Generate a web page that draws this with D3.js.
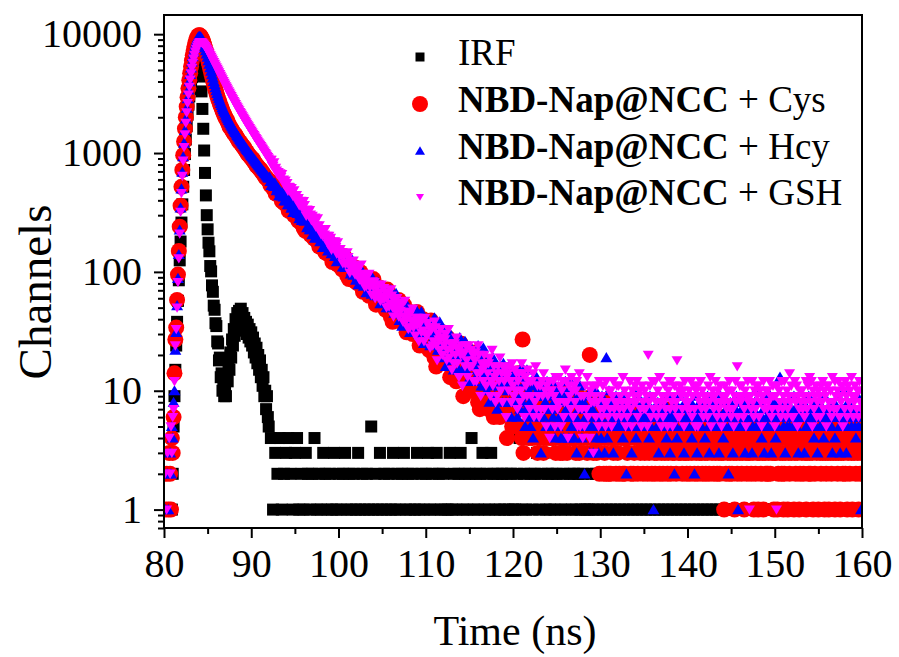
<!DOCTYPE html>
<html>
<head>
<meta charset="utf-8">
<script src="https://cdn.jsdelivr.net/npm/d3@7"></script>
<style>
body { margin: 0; background: #fff; }
</style>
</head>
<body>
<svg id="chart" width="899" height="657"></svg>
<script>
// sample decays: one count per channel, channels every 0.1 ns from 80.0 to 160.0
var timeStart = 80, timeStep = 0.1;
// IRF: 0.1 ns channels to 92.0, then read every 0.25 ns from 92.25
var irfTailStart = 92.25, irfTailStep = 0.25;

var xTicks = [80, 90, 100, 110, 120, 130, 140, 150, 160];
var xMinor = [85, 95, 105, 115, 125, 135, 145, 155];
var yTicks = [1, 10, 100, 1000, 10000];

var irfFine = [
  0,0,0,0,0,0,0,0,0,1,
  2,5,9,15,24,38,57,85,125,180,
  260,370,520,720,980,1300,1680,2100,2550,3000,
  3450,3900,4350,4800,5200,5600,5950,6250,6450,6500,
  6250,5500,4400,3300,2350,1600,1050,680,440,300,
  228,176,149,112,101,77,68,52,48,37,
  35,26,25,18,19,13,14,10,12,9,
  11,9,13,12,17,15,21,19,27,24,
  33,29,40,35,45,38,47,41,49,40,
  45,37,41,32,38,30,36,28,33,26,
  31,24,28,21,25,19,23,17,20,15,
  18,13,15,11,13,9,10,7,9,6,
  5];
var irfTail = [
  4,1,3,2, 4,1,2,3, 4,2,1,3, 4,1,2,1, 3,2,1,2,
  4,1,2,1, 3,2,1,2, 1,3,1,2, 1,2,3,1, 2,1,2,1,
  3,1,2,1, 2,1,5,1, 2,1,3,1, 2,1,2,1, 3,1,2,1,
  2,3,1,2, 1,2,1,3, 1,2,1,2, 3,1,2,1, 3,2,1,2,
  1,1,3,1, 2,1,2,3, 1,2,1,2, 4,1,2,1, 2,3,1,2,
  1,3,2,1, 2,1,2,1, 2,1,2,1, 1,2,4,1, 2,1,4,2,
  1,2,3,1, 2,3,1,2, 1,2,1,2, 3,1,2,1, 3,2,1,2,
  1,2,1,2, 1,1,1,2, 1,2,1,2, 1,2,1,2, 1,2,1,3,
  1,2,1,2, 1,2,1,2, 1,2,1,2, 1,2,1,2, 1,2,1,2,
  1,2,1,2, 1,2,1,2, 1,2,1,2, 1,2,1,2, 1,2,1,2,
  1,2,1,2, 1,2,1,2, 1,2,1,2, 1,2,1,2, 1,2,1,2,
  1,2,1,2, 1,2,1,2, 1,2,1,2, 1,2,1,2, 1,2,1,2,
  1,2,1,2, 1,2,1,2, 1,2,1,2, 1,2,1,2, 1,2,1,2,
  1,2,1,2, 1,2,1,2, 1,2,1,2];

var cysCounts = [
  0,1,0,2,0,1,3,2,1,4,
  3,6,14,27,34,58,95,150,240,360,
  520,720,960,1250,1600,2000,2450,2950,3500,4100,
  4700,5350,6000,6650,7300,7900,8450,8950,9350,9650,
  9800,9780,9620,9350,9000,8600,8150,7700,7250,6780,
  6320,5900,5480,5100,4740,4420,4130,3860,3620,3400,
  3200,3030,2880,2740,2610,2490,2380,2280,2190,2100,
  2020,1950,1905,1820,1760,1672,1650,1600,1555,1510,
  1470,1435,1423,1365,1330,1300,1248,1240,1210,1180,
  1150,1120,1117,1070,1045,1020,978,970,950,930,
  910,890,889,850,830,812,781,778,760,744,
  728,726,696,681,666,652,625,624,611,598,
  585,
  581,535,568,528,560,494,506,455,496,468,
  447,475,437,448,395,419,425,377,380,420,
  394,355,326,362,346,325,358,331,299,322,
  303,312,317,269,275,312,258,275,258,234,
  267,222,247,248,226,248,224,204,241,208,
  216,191,215,195,217,180,191,163,191,177,
  167,187,165,175,145,163,169,141,146,174,
  159,138,121,146,137,126,149,133,115,131,
  121,129,134,105,110,137,103,115,107,93,
  115,87,105,107,94,110,96,84,109,89,
  96,80,97,85,100,78,86,68,87,79,
  74,89,75,83,63,77,82,64,67,87,
  78,64,53,71,66,58,74,64,54,65,
  58,64,68,48,53,71,48,57,52,42,
  58,38,52,54,45,57,47,39,58,43,
  48,38,50,41,53,37,43,31,46,39,
  36,46,38,43,30,39,43,31,34,46,
  41,31,24,36,34,28,40,33,25,33,
  29,33,36,22,25,39,22,29,24,19,
  31,16,26,28,21,30,23,17,31,21,
  24,17,26,20,28,17,21,13,23,20,
  16,24,18,22,12,19,22,14,15,25,
  21,15,9,18,16,13,22,16,11,17,
  14,18,19,10,12,21,11,14,12,8,
  16,7,14,14,10,16,12,8,17,11,
  12,7,14,10,16,8,12,6,12,10,
  8,14,9,12,6,11,13,7,8,15,
  12,7,4,11,9,7,13,10,5,10,
  7,10,12,5,7,14,5,9,7,4,
  27,3,8,8,5,10,7,4,11,6,
  8,4,9,6,11,5,8,3,8,6,
  4,9,5,8,3,7,8,4,5,11,
  9,5,4,7,6,4,9,7,3,7,
  5,7,8,3,4,10,3,6,4,5,
  7,3,5,6,4,7,5,4,8,4,
  6,3,7,5,9,3,5,4,7,5,
  4,8,5,7,3,5,7,20,4,9,
  6,3,4,5,4,3,7,4,2,5,
  4,5,7,2,3,8,2,5,4,2,
  6,2,4,5,3,6,4,2,7,3,
  5,2,6,4,7,2,4,2,5,4,
  3,6,4,5,2,5,6,2,3,7,
  6,4,2,5,4,3,6,4,2,5,
  3,5,4,2,6,3,4,5,2,4,
  5,3,2,4,3,6,4,2,5,3,
  4,2,6,3,5,4,2,3,7,4,
  2,5,3,4,3,6,2,4,5,3,
  4,3,5,2,4,3,6,3,2,5,
  3,4,2,5,3,4,6,2,4,3,
  5,2,4,3,6,3,2,4,5,3,
  2,4,3,5,2,6,4,3,4,2,
  4,3,5,2,4,3,2,5,3,6,
  3,1,4,2,5,3,4,2,3,4,
  2,4,3,1,5,3,2,4,6,3,
  4,2,3,5,1,4,3,2,4,3,
  3,5,2,4,3,1,4,2,5,3,
  1,3,4,2,5,3,1,4,3,2,
  4,2,3,5,2,4,3,6,1,3,
  3,4,1,2,4,3,5,2,3,1,
  2,3,5,4,1,3,2,4,3,5,
  4,1,3,2,5,3,4,1,2,4,
  3,5,2,4,3,1,3,5,2,3,
  2,4,3,1,4,2,5,3,4,1,
  5,3,2,4,3,6,1,3,2,4,
  3,1,4,3,2,5,3,4,1,3,
  4,2,3,5,1,3,4,2,3,5,
  2,4,1,3,4,2,5,3,1,4,
  3,5,2,4,3,1,4,2,3,4];

var hcyCounts = [
  0,0,1,0,2,1,0,3,2,5,
  4,8,10,22,31,52,88,140,225,345,
  500,690,930,1210,1550,1940,2380,2870,3400,3980,
  4580,5200,5840,6480,7100,7680,8200,8680,9080,9380,
  9560,9600,9500,9280,8960,8570,8140,7700,7260,6830,
  6400,5990,5600,5230,4890,4570,4280,4010,3770,3550,
  3350,3170,3010,2870,2740,2620,2510,2410,2320,2240,
  2160,2080,2010,1945,1880,1820,1765,1715,1665,1620,
  1575,1530,1490,1450,1410,1375,1340,1305,1270,1240,
  1210,1180,1150,1125,1100,1075,1050,1025,1000,978,
  956,935,914,894,874,855,836,818,800,782,
  765,748,732,716,700,685,670,656,642,628,
  615,
  628,577,535,578,554,523,562,524,482,507,
  504,438,470,468,435,462,428,396,445,397,
  405,368,399,368,397,344,356,316,352,330,
  316,340,311,322,280,302,308,271,273,307,
  267,276,281,236,242,278,227,243,227,206,
  239,213,192,220,209,194,221,201,180,197,
  199,161,183,184,166,185,167,150,183,155,
  162,142,163,146,166,135,144,122,145,134,
  126,144,127,135,110,125,131,109,113,136,
  111,118,123,96,102,125,94,106,97,85,
  107,91,78,99,93,83,102,91,76,90,
  92,67,83,85,74,88,76,65,89,70,
  76,63,78,68,82,62,69,54,71,63,
  58,72,59,67,50,61,66,50,54,71,
  54,59,63,45,48,66,45,53,48,39,
  56,44,35,50,47,40,55,46,37,47,
  48,31,43,44,37,47,39,32,48,36,
  40,30,42,34,46,30,36,25,38,33,
  30,40,31,36,24,33,37,25,28,41,
  28,33,35,22,25,38,22,29,24,19,
  32,22,16,28,26,20,31,26,18,26,
  27,15,23,24,19,27,21,15,28,19,
  22,15,24,19,26,15,20,12,22,18,
  16,23,17,21,12,18,21,13,15,24,
  15,19,21,11,13,23,11,17,14,10,
  18,12,8,16,14,11,19,14,9,15,
  16,7,14,15,11,16,12,8,17,11,
  13,8,15,10,16,8,12,6,13,11,
  8,14,9,13,6,11,13,7,9,16,
  8,11,13,5,7,15,6,10,8,5,
  12,7,4,11,9,7,13,10,6,10,
  11,3,9,9,6,11,8,5,12,7,
  9,5,10,7,12,6,8,4,10,8,
  5,10,6,9,4,8,10,4,6,12,
  7,9,10,4,6,12,5,8,6,4,
  10,6,3,9,7,5,11,8,4,8,
  8,2,6,7,5,9,6,3,10,5,
  7,3,8,5,10,4,6,3,8,6,
  4,9,5,8,3,7,19,4,5,10,
  6,7,8,5,3,7,6,9,6,5,
  7,5,8,6,9,4,6,5,8,2,
  5,8,6,7,7,3,5,10,6,8,
  4,6,9,5,7,7,6,6,8,5,
  8,6,5,7,6,4,9,5,7,6,
  1,7,6,6,5,8,3,6,7,8,
  6,5,8,7,7,4,6,9,5,3,
  6,7,5,6,2,8,5,4,7,6,
  9,7,6,5,7,3,8,5,6,6,
  5,6,7,8,4,7,5,2,6,9,
  3,7,6,8,8,5,6,7,6,4,
  6,7,9,5,3,6,8,6,5,7,
  7,5,7,8,6,3,5,9,6,6,
  4,8,5,7,7,6,2,5,8,5,
  6,3,7,5,7,9,5,1,6,8,
  5,7,6,6,8,3,6,5,7,7,
  8,6,6,3,5,7,8,10,5,6,
  6,6,5,8,4,6,7,3,5,9,
  6,5,7,7,9,3,5,6,8,6,
  4,7,5,6,7,13,6,8,7,5,
  7,3,6,5,8,7,5,7,6,6,
  5,9,7,7,5,6,3,8,6,6,
  6,7,8,3,6,5,7,6,9,5,
  6,6,5,7,4,8,5,6,3,7,
  8,5,7,6,7,4,9,5,6,7,
  5,7,6,7,5,3,6,8,4,6,
  6,6,9,5,3,7,5,7,10,5,
  6,3,5,8,6,7,7,5,6,6,
  7,5,4,6,9,5,7,6,1,5];

var gshCounts = [
  0,2,0,1,3,0,4,2,5,3,
  6,7,12,24,33,50,82,130,210,320,
  460,640,860,1120,1430,1790,2190,2630,3100,3600,
  4130,4670,5200,5720,6220,6690,7120,7510,7850,8130,
  8350,8500,8560,8520,8420,8280,8110,7920,7720,7510,
  7290,7070,6850,6630,6420,6210,6010,5810,5620,5440,
  5260,5090,4920,4760,4600,4450,4300,4160,4020,3890,
  3760,3640,3520,3410,3300,3200,3100,3000,2910,2820,
  2730,2650,2570,2490,2420,2350,2280,2210,2150,2090,
  2030,1970,1915,1860,1810,1760,1710,1665,1620,1575,
  1530,1490,1450,1410,1370,1335,1300,1265,1230,1200,
  1170,1140,1110,1080,1052,1025,998,972,947,922,
  898,
  872,876,874,779,780,835,729,749,710,660,
  690,636,673,626,662,585,597,539,584,551,
  557,481,518,514,476,505,467,431,485,429,
  413,442,403,417,363,390,396,348,352,393,
  364,325,296,333,319,296,330,303,272,295,
  271,281,286,240,245,281,229,246,229,207,
  228,201,228,205,229,190,201,172,201,186,
  193,153,177,179,160,180,161,142,177,148,
  137,155,137,146,118,136,142,116,120,146,
  133,113,98,122,114,103,124,110,95,110,
  100,108,112,86,91,115,84,96,87,75,
  92,76,93,81,96,74,82,64,83,75,
  82,60,74,75,65,78,67,57,78,62,
  59,73,60,67,50,61,66,51,54,71,
  63,50,42,57,53,46,60,52,42,52,
  47,52,55,38,42,57,38,46,41,33,
  43,34,46,38,49,34,39,29,41,36,
  41,26,36,38,31,40,32,26,41,30,
  29,37,30,34,23,32,34,24,26,38,
  34,24,18,30,27,22,33,28,20,28,
  24,27,30,18,22,33,19,25,22,15,
  24,17,25,20,28,17,22,13,23,20,
  24,11,20,21,16,24,18,13,24,16,
  16,22,16,20,12,18,21,12,14,24,
  20,14,9,17,15,12,20,16,11,17,
  14,17,19,9,12,22,11,16,13,8,
  14,9,16,12,19,10,14,8,16,12,
  15,6,13,14,10,16,12,8,17,11,
  9,15,10,14,7,12,14,8,10,17,
  14,9,6,13,11,9,15,12,7,12,
  9,12,14,6,8,16,7,11,9,6,
  11,7,12,9,14,7,10,5,11,9,
  12,4,10,10,7,12,9,5,13,8,
  7,13,8,11,5,10,12,6,8,15,
  12,8,4,11,9,7,13,10,6,11,
  8,10,12,5,7,14,5,9,7,4,
  9,5,11,7,13,6,9,4,10,8,
  11,3,8,9,6,11,8,5,12,7,
  9,6,11,7,8,5,12,8,6,10,
  7,10,5,9,12,7,8,6,11,8,
  11,7,9,6,8,13,7,10,5,8,
  6,9,8,12,7,5,10,8,9,11,
  8,12,6,9,10,7,5,11,8,7,
  10,7,9,5,20,8,11,6,9,12,
  7,9,12,8,6,10,7,13,8,5,
  9,6,8,11,7,9,5,10,12,7,
  12,8,5,9,11,7,8,18,6,10,
  6,11,9,7,10,5,12,8,9,7,
  8,10,7,12,6,9,11,7,5,10,
  11,5,9,8,12,7,10,6,9,8,
  7,9,6,11,8,13,5,9,10,7,
  9,12,8,6,10,7,11,8,5,9,
  6,8,11,9,7,10,8,12,7,6,
  10,7,5,9,12,8,16,6,9,11,
  8,11,9,6,7,10,5,9,12,8,
  1,9,7,12,8,6,10,7,11,9,
  11,6,10,8,5,9,12,7,8,10,
  7,10,8,12,9,6,7,11,9,5,
  9,1,11,7,10,8,6,12,7,9,
  12,8,6,10,7,9,14,8,11,6,
  6,9,12,8,11,5,9,7,10,8,
  10,7,9,6,8,12,7,11,9,13,
  8,12,5,10,7,9,11,6,8,10,
  9,6,11,8,12,7,10,9,5,11,
  11,8,7,10,6,13,8,7,12,9,
  7,10,12,6,9,8,11,5,10,7,
  12,9,6,11,8,10,7,13,9,6,
  8,11,9,7,10,6,12,8,7,10];

var serif = "'Times New Roman', 'Liberation Serif', serif";

function channelPoints(counts) {
  return counts.map(function(v, i) { return { t: timeStart + i * timeStep, v: v }; })
    .filter(function(d) { return d.v > 0; });
}
function irfPoints() {
  var pts = irfFine.map(function(v, i) { return { t: timeStart + i * timeStep, v: v }; });
  irfTail.forEach(function(v, i) { pts.push({ t: irfTailStart + i * irfTailStep, v: v }); });
  return pts.filter(function(d) { return d.v > 0; });
}

// marker shapes
function square(cx, cy, s) {
  return "M" + (cx - s / 2) + "," + (cy - s / 2) + "h" + s + "v" + s + "h" + (-s) + "Z";
}
function circle(cx, cy, s) {
  var r = s / 2;
  return "M" + (cx - r) + "," + cy + "a" + r + "," + r + " 0 1,0 " + (2 * r) + ",0a" + r + "," + r + " 0 1,0 " + (-2 * r) + ",0Z";
}
function triUp(cx, cy, s) {
  var h = s * 0.85;
  return "M" + cx + "," + (cy - h * 0.55) + "L" + (cx + s / 2) + "," + (cy + h * 0.45) + "L" + (cx - s / 2) + "," + (cy + h * 0.45) + "Z";
}
function triDown(cx, cy, s) {
  var h = s * 0.85;
  return "M" + cx + "," + (cy + h * 0.55) + "L" + (cx + s / 2) + "," + (cy - h * 0.45) + "L" + (cx - s / 2) + "," + (cy - h * 0.45) + "Z";
}

var series = [
  { name: "IRF", pts: irfPoints(), shape: square, color: "#000000", size: 12, legendSize: 9 },
  { name: "Cys", pts: channelPoints(cysCounts), shape: circle, color: "#ff0000", size: 16, legendSize: 16 },
  { name: "Hcy", pts: channelPoints(hcyCounts), shape: triUp, color: "#0000ff", size: 12, legendSize: 10 },
  { name: "GSH", pts: channelPoints(gshCounts), shape: triDown, color: "#ff00ff", size: 11, legendSize: 8 }
];

var svg = d3.select("#chart");
svg.append("rect").attr("width", 899).attr("height", 657).attr("fill", "#fff");

var plotLeft = 164, plotRight = 862, plotTop = 15, plotBottom = 528;

var x = d3.scaleLinear().domain([80, 160]).range([plotLeft, plotRight]);
var y = d3.scaleLog().domain([0.7, 14500]).range([plotBottom, plotTop]);

svg.append("clipPath").attr("id", "plotClip")
  .append("rect")
  .attr("x", plotLeft).attr("y", plotTop)
  .attr("width", plotRight - plotLeft).attr("height", plotBottom - plotTop);

var plot = svg.append("g").attr("clip-path", "url(#plotClip)");

series.forEach(function(s) {
  plot.append("g").selectAll("path")
    .data(s.pts)
    .enter()
    .append("path")
    .attr("d", function(d) { return s.shape(x(d.t), y(d.v), s.size); })
    .attr("fill", s.color);
});

// axes
var xAxis = svg.append("g").attr("transform", "translate(0," + plotBottom + ")")
  .call(d3.axisBottom(x).tickValues(xTicks).tickSize(10).tickPadding(11).tickSizeOuter(0).tickFormat(d3.format("d")));
var xAxisMinor = svg.append("g").attr("transform", "translate(0," + plotBottom + ")")
  .call(d3.axisBottom(x).tickValues(xMinor).tickSize(6).tickSizeOuter(0).tickFormat(""));

var yMinor = [];
[0.1, 1, 10, 100, 1000].forEach(function(dec) {
  for (var k = 2; k <= 9; k++) {
    var v = k * dec;
    if (v >= 0.7 && v <= 14500) yMinor.push(v);
  }
});

var yAxis = svg.append("g").attr("transform", "translate(" + plotLeft + ",0)")
  .call(d3.axisLeft(y).tickValues(yTicks).tickSize(10).tickPadding(12).tickSizeOuter(0).tickFormat(d3.format("d")));
var yAxisMinor = svg.append("g").attr("transform", "translate(" + plotLeft + ",0)")
  .call(d3.axisLeft(y).tickValues(yMinor).tickSize(6).tickSizeOuter(0).tickFormat(""));

[xAxis, xAxisMinor, yAxis, yAxisMinor].forEach(function(g) {
  g.select(".domain").remove();
  g.selectAll("line").attr("stroke", "#000").attr("stroke-width", 2);
  g.selectAll("text").attr("font-family", serif).attr("font-size", 40).attr("fill", "#000");
});

svg.append("rect")
  .attr("x", plotLeft).attr("y", plotTop)
  .attr("width", plotRight - plotLeft).attr("height", plotBottom - plotTop)
  .attr("fill", "none").attr("stroke", "#000").attr("stroke-width", 2);

// axis titles
svg.append("text")
  .attr("x", 515).attr("y", 645)
  .attr("text-anchor", "middle")
  .attr("font-family", serif).attr("font-size", 42)
  .text("Time (ns)");

svg.append("text")
  .attr("transform", "translate(51,292) rotate(-90)")
  .attr("text-anchor", "middle")
  .attr("font-family", serif).attr("font-size", 47)
  .text("Channels");

// legend
var legendY = [57, 104, 151, 197];
series.forEach(function(s, i) {
  svg.append("path")
    .attr("d", s.shape(420, legendY[i], s.legendSize))
    .attr("fill", s.color);
  var t = svg.append("text")
    .attr("x", 458).attr("y", legendY[i] + 8)
    .attr("font-family", serif).attr("font-size", 37)
    .style("white-space", "pre");
  if (s.name === "IRF") {
    t.text("IRF");
  } else {
    t.append("tspan").attr("font-weight", "bold").text("NBD-Nap@NCC");
    t.append("tspan").text(" + " + s.name);
  }
});
</script>
</body>
</html>
